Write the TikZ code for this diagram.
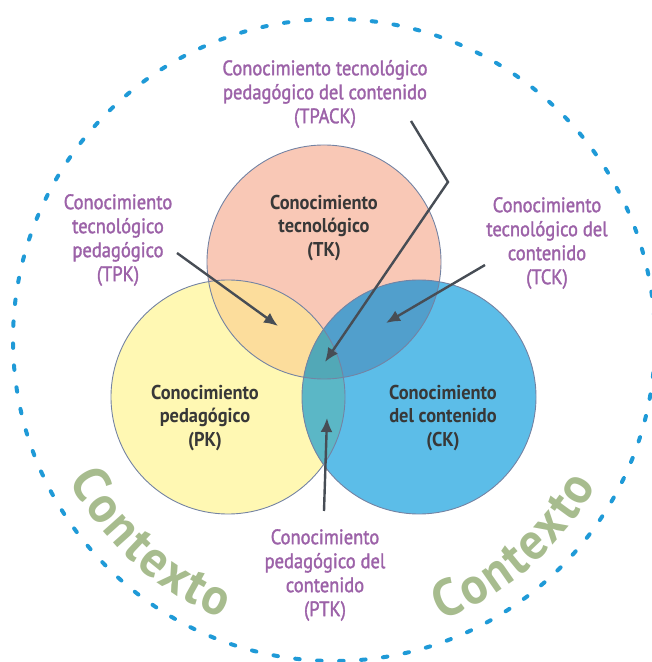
\documentclass[tikz,border=0pt]{standalone}
\usepackage{fontspec}
\setmainfont{PT Sans}[FakeStretch=0.88]
\newfontfamily\lblfont{PT Sans}[FakeStretch=0.88, FakeBold=1.6]
\newfontfamily\boldlblfont{PT Sans Bold}[FakeStretch=0.92]
\newfontfamily\ctxfont{PT Sans Bold}[FakeStretch=0.95]
\usetikzlibrary{arrows.meta,decorations.text}
\definecolor{tkpink}{HTML}{F9C8B6}
\definecolor{pkyellow}{HTML}{FFF8B3}
\definecolor{ckblue}{HTML}{5CBDE8}
\definecolor{tkpk}{HTML}{FCDD9C}
\definecolor{tkck}{HTML}{519FCC}
\definecolor{pkck}{HTML}{5BB7C6}
\definecolor{allthree}{HTML}{52A8B7}
\definecolor{rim}{HTML}{7483A3}
\definecolor{dotblue}{HTML}{1F9AD7}
\definecolor{lblpurple}{HTML}{9C62A8}
\definecolor{lbldark}{HTML}{383838}
\definecolor{arrowgray}{HTML}{474D55}
\definecolor{ctxgreen}{HTML}{A7BC8E}
\tikzset{
  purplelbl/.style={align=center, text=lblpurple, font=\lblfont\fontsize{21}{24}\selectfont, inner sep=0pt},
  darklbl/.style={align=center, text=lbldark, font=\boldlblfont\fontsize{20}{23.5}\selectfont, inner sep=0pt},
  pointer/.style={draw=arrowgray, line width=2.4pt, -{Latex[length=14pt,width=12pt]}},
  rimline/.style={draw=rim, line width=0.9pt},
}
\begin{document}
\begin{tikzpicture}[x=1pt,y=1pt]
\useasboundingbox (0,0) rectangle (652,662);
% centres
\coordinate (O) at (334,322);
\coordinate (cTK) at (324,400);
\coordinate (cPK) at (228,265);
\coordinate (cCK) at (419,265);
\def\R{117}
% fills
\fill[pkyellow] (cPK) circle (\R);
\fill[tkpink] (cTK) circle (\R);
\fill[ckblue] (cCK) circle (\R);
\begin{scope}
  \clip (cTK) circle (\R);
  \fill[tkpk] (cPK) circle (\R);
  \fill[tkck] (cCK) circle (\R);
\end{scope}
\begin{scope}
  \clip (cPK) circle (\R);
  \fill[pkck] (cCK) circle (\R);
  \clip (cCK) circle (\R);
  \fill[allthree] (cTK) circle (\R);
\end{scope}
\draw[rimline] (cPK) circle (\R);
\draw[rimline] (cTK) circle (\R);
\draw[rimline] (cCK) circle (\R);
% outer dotted context circle
\draw[dotblue, line width=4pt, line cap=round, dash pattern=on 4.5pt off 17.5pt] (O) circle (321);
% Contexto along the arc
\path[decorate, decoration={text along path, text align=fit to path,
  text={|\ctxfont\fontsize{52}{52}\selectfont\color{ctxgreen}|Contexto}}]
  (O) ++(208:300) arc[start angle=208, end angle=248, radius=300];
\path[decorate, decoration={text along path, text align=fit to path,
  text={|\ctxfont\fontsize{52}{52}\selectfont\color{ctxgreen}|Contexto}}]
  (O) ++(291:300) arc[start angle=291, end angle=331, radius=300];
% circle labels
\node[darklbl] (tk) at (324,434) {Conocimiento\\tecnológico\\(TK)};
\node[darklbl] (pk) at (205,244) {Conocimiento\\pedagógico\\(PK)};
\node[darklbl] (ck) at (443,244) {Conocimiento\\del contenido\\(CK)};
% purple labels
\node[purplelbl] (tpack) at (325,568) {Conocimiento tecnológico\\pedagógico del contenido\\(TPACK)};
\node[purplelbl] (tpk) at (118,422) {Conocimiento\\tecnológico\\pedagógico\\(TPK)};
\node[purplelbl] (tck) at (547,419) {Conocimiento\\tecnológico del\\contenido\\(TCK)};
\node[purplelbl] (ptk) at (325,87) {Conocimiento\\pedagógico del\\contenido\\(PTK)};
% arrow ends
\coordinate (tpackA) at (411,541);
\coordinate (tpackB) at (448,480);
\coordinate (tpackT) at (325,300);
\coordinate (tpkA) at (177,409);
\coordinate (tpkT) at (278,336);
\coordinate (tckA) at (485,397);
\coordinate (tckT) at (386,339);
\coordinate (ptkA) at (324,151);
\coordinate (ptkT) at (327,244);
\draw[pointer] (tpackA) -- (tpackB) -- (tpackT);
\draw[pointer] (tpkA) -- (tpkT);
\draw[pointer] (tckA) -- (tckT);
\draw[pointer] (ptkA) -- (ptkT);
\end{tikzpicture}
\end{document}
